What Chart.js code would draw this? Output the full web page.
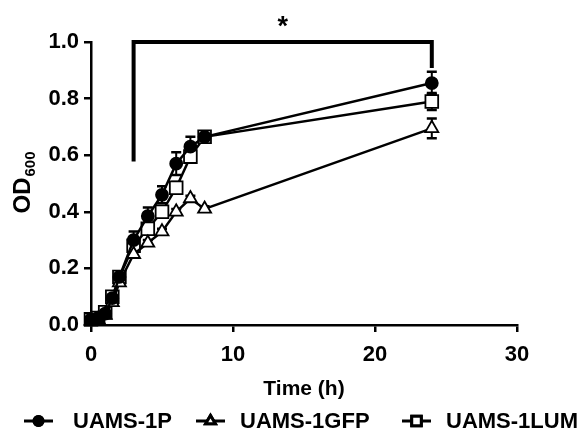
<!DOCTYPE html>
<html lang="en">
<head>
  <meta charset="UTF-8">
  <title>UAMS-1 growth curve</title>
  <script src="https://cdn.jsdelivr.net/npm/chart.js"></script>
  <style>
    html, body { margin: 0; padding: 0; background: #fff; }
    #wrap { width: 583px; height: 439px; }
  </style>
</head>
<body>
  <div id="wrap"><canvas id="growthChart"></canvas></div>

  <script>
    // sampling times (h)
    const timePoints = [0, 0.5, 1, 1.5, 2, 3, 4, 5, 6, 7, 8, 24];

    // OD600 means per strain
    const od1P   = [0.02, 0.025, 0.04, 0.095, 0.17, 0.30, 0.385, 0.46, 0.57, 0.63, 0.665, 0.855];
    const od1GFP = [0.015, 0.02, 0.035, 0.08, 0.15, 0.25, 0.29, 0.33, 0.40, 0.447, 0.41, 0.695];
    const od1LUM = [0.02, 0.025, 0.045, 0.10, 0.17, 0.28, 0.34, 0.40, 0.485, 0.595, 0.665, 0.79];

    // error (SD) per strain
    const err1P   = [0.005, 0.005, 0.005, 0.01, 0.01, 0.03, 0.03, 0.03, 0.04, 0.035, 0.02, 0.04];
    const err1GFP = [0.005, 0.005, 0.005, 0.01, 0.01, 0.01, 0.01, 0.01, 0.01, 0.01, 0.01, 0.035];
    const err1LUM = [0.005, 0.005, 0.005, 0.01, 0.01, 0.015, 0.015, 0.015, 0.02, 0.02, 0.02, 0.03];

    const seriesNames = ['UAMS-1P', 'UAMS-1GFP', 'UAMS-1LUM'];
    const xTicks = [0, 10, 20, 30];
    const yTicks = [0, 0.2, 0.4, 0.6, 0.8, 1.0];

    // significance bracket (time from/to, OD where legs end)
    const sigFrom = 3, sigTo = 24, sigTop = 1.0, sigLeftEnd = 0.585, sigRightEnd = 0.915;

    const FONT = "'Liberation Sans', Arial, sans-serif";

    function toPoints(ys) {
      return timePoints.map((t, i) => ({ x: t, y: ys[i] }));
    }

    // vertical error bars with caps, drawn under the markers
    const errorBars = {
      id: 'errorBars',
      beforeDatasetsDraw(chart) {
        const { ctx, scales: { x, y } } = chart;
        ctx.save();
        ctx.strokeStyle = '#000';
        chart.data.datasets.forEach(ds => {
          ds.data.forEach((p, i) => {
            const e = ds.errors[i];
            const px = x.getPixelForValue(p.x);
            const top = y.getPixelForValue(p.y + e);
            const bot = y.getPixelForValue(p.y - e);
            ctx.lineWidth = 2;
            ctx.beginPath();
            ctx.moveTo(px, top); ctx.lineTo(px, bot);
            ctx.stroke();
            ctx.lineWidth = 2.5;
            ctx.beginPath();
            ctx.moveTo(px - 5, top); ctx.lineTo(px + 5, top);
            ctx.moveTo(px - 5, bot); ctx.lineTo(px + 5, bot);
            ctx.stroke();
          });
        });
        ctx.restore();
      }
    };

    // bracket with asterisk
    const sigBracket = {
      id: 'sigBracket',
      afterDatasetsDraw(chart) {
        const { ctx, scales: { x, y } } = chart;
        const x1 = x.getPixelForValue(sigFrom), x2 = x.getPixelForValue(sigTo);
        const yt = y.getPixelForValue(sigTop);
        ctx.save();
        ctx.strokeStyle = '#000';
        ctx.lineWidth = 4;
        ctx.lineCap = 'square';
        ctx.beginPath();
        ctx.moveTo(x1, y.getPixelForValue(sigLeftEnd));
        ctx.lineTo(x1, yt);
        ctx.lineTo(x2, yt);
        ctx.lineTo(x2, y.getPixelForValue(sigRightEnd));
        ctx.stroke();
        ctx.fillStyle = '#000';
        ctx.font = 'bold 27px ' + FONT;
        ctx.textAlign = 'center';
        ctx.textBaseline = 'middle';
        ctx.fillText('*', (x1 + x2) / 2, yt - 14);
        ctx.restore();
      }
    };

    // rotated y title with subscript, and legend along the bottom
    const extraText = {
      id: 'extraText',
      afterDraw(chart) {
        const { ctx } = chart;
        ctx.save();
        ctx.fillStyle = '#000';
        ctx.translate(30, 183);
        ctx.rotate(-Math.PI / 2);
        ctx.font = 'bold 24px ' + FONT;
        const wMain = ctx.measureText('OD').width;
        ctx.font = 'bold 15px ' + FONT;
        const wSub = ctx.measureText('600').width;
        const start = -(wMain + wSub) / 2;
        ctx.textBaseline = 'alphabetic';
        ctx.font = 'bold 24px ' + FONT;
        ctx.fillText('OD', start, 0);
        ctx.font = 'bold 15px ' + FONT;
        ctx.fillText('600', start + wMain + 1, 5);
        ctx.restore();

        // legend
        const items = [
          { lineX: 24, textX: 73, style: 'circle' },
          { lineX: 196, textX: 240, style: 'triangle' },
          { lineX: 402, textX: 446, style: 'rect' }
        ];
        const ly = 421;
        ctx.save();
        items.forEach((it, i) => {
          ctx.strokeStyle = '#000';
          ctx.lineWidth = 3;
          ctx.beginPath();
          ctx.moveTo(it.lineX, ly); ctx.lineTo(it.lineX + 29, ly);
          ctx.stroke();
          const ds = chart.data.datasets[i];
          Chart.helpers.drawPoint(ctx, {
            pointStyle: it.style,
            radius: ds.pointRadius * 0.75,
            borderWidth: 1.5,
            rotation: 0
          }, it.lineX + 14.5, ly);
          ctx.fillStyle = ds.pointBackgroundColor;
          ctx.fill();
          ctx.stroke();
          ctx.fillStyle = '#000';
          ctx.font = 'bold 22px ' + FONT;
          ctx.textAlign = 'left';
          ctx.textBaseline = 'middle';
          ctx.fillText(seriesNames[i], it.textX, ly + 1);
        });
        ctx.restore();
      }
    };

    function lineSet(name, ys, errs, style, radius, fill) {
      return {
        label: name,
        data: toPoints(ys),
        errors: errs,
        borderColor: '#000',
        borderWidth: 2.5,
        pointStyle: style,
        pointRadius: radius,
        pointBackgroundColor: fill,
        pointBorderColor: '#000',
        pointBorderWidth: 1.8,
        tension: 0,
        clip: false
      };
    }

    const ctx = document.getElementById('growthChart').getContext('2d');
    const growthChart = new Chart(ctx, {
      type: 'line',
      data: {
        datasets: [
          lineSet(seriesNames[0], od1P, err1P, 'circle', 6, '#000'),
          lineSet(seriesNames[1], od1GFP, err1GFP, 'triangle', 7.5, '#fff'),
          lineSet(seriesNames[2], od1LUM, err1LUM, 'rect', 9, '#fff')
        ]
      },
      options: {
        responsive: true,
        maintainAspectRatio: false,
        animation: false,
        devicePixelRatio: 1,
        layout: { padding: { top: 42, right: 66, bottom: 37, left: 0 } },
        plugins: {
          legend: { display: false },
          tooltip: { enabled: false }
        },
        scales: {
          x: {
            type: 'linear',
            min: 0, max: 30,
            afterBuildTicks: s => { s.ticks = xTicks.map(v => ({ value: v })); },
            afterFit: s => { s.height = 77; },
            ticks: { color: '#000', font: { family: FONT, size: 22, weight: 'bold' }, padding: 10 },
            grid: { drawOnChartArea: false, drawTicks: true, tickLength: 7, color: '#000', lineWidth: 2.5 },
            border: { color: '#000', width: 2.5 },
            title: { display: true, text: 'Time (h)', color: '#000', font: { family: FONT, size: 21, weight: 'bold' }, padding: 0 }
          },
          y: {
            min: 0, max: 1,
            afterBuildTicks: s => { s.ticks = yTicks.map(v => ({ value: v })); },
            afterFit: s => { s.width = 91; },
            ticks: { color: '#000', font: { family: FONT, size: 22, weight: 'bold' }, padding: 5,
                     callback: v => v.toFixed(1) },
            grid: { drawOnChartArea: false, drawTicks: true, tickLength: 7, color: '#000', lineWidth: 2.5 },
            border: { color: '#000', width: 2.5 }
          }
        }
      },
      plugins: [errorBars, sigBracket, extraText]
    });
  </script>
</body>
</html>
